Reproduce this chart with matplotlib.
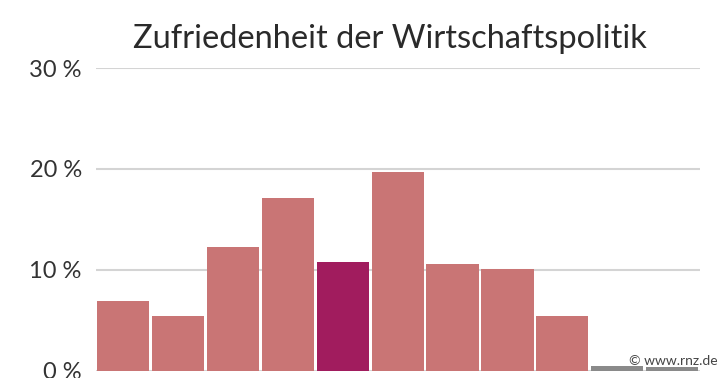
"""Zufriedenheit der Wirtschaftspolitik - bar chart."""

import matplotlib.pyplot as plt
from matplotlib.ticker import FuncFormatter

# values in percent, scale 0..10
categories = list(range(11))
shares = [6.9, 5.45, 12.3, 17.15, 10.8, 19.65, 10.55, 10.1, 5.45, 0.45, 0.3]
highlight = 4
ticks = [0, 10, 20, 30]

base_color = "#c97575"
dark_color = "#a11c5e"
grey_color = "#8a8a8a"

colors = []
for i, v in enumerate(shares):
    if i == highlight:
        colors.append(dark_color)
    elif v < 1:
        colors.append(grey_color)
    else:
        colors.append(base_color)

plt.rcParams["font.family"] = ["Lato", "DejaVu Sans"]

fig = plt.figure(figsize=(7.25, 3.78), dpi=100)
ax = fig.add_axes([0.132, 0.0198, 0.833, 0.800])

ax.bar(categories, shares, width=0.95, color=colors, zorder=2)
ax.set_xlim(-0.5, 10.5)
ax.set_ylim(0, 30)
ax.set_yticks(ticks)
ax.yaxis.set_major_formatter(FuncFormatter(lambda v, _: f"{v:.0f} %"))
ax.tick_params(axis="x", length=0, labelbottom=False)
ax.tick_params(axis="y", length=0, pad=10, labelsize=17, labelcolor="#333333")
ax.grid(axis="y", color="#d4d4d4", linewidth=1.5, zorder=1)
for s in ax.spines.values():
    s.set_visible(False)

fig.text(0.538, 0.897, "Zufriedenheit der Wirtschaftspolitik", ha="center", va="center",
         fontsize=23.5, color="#2a2a2a")
fig.text(0.99, 0.045, "\u00a9 www.rnz.de", ha="right", va="center", fontsize=10,
         color="#444444")

fig.savefig("out.png", dpi=100)
